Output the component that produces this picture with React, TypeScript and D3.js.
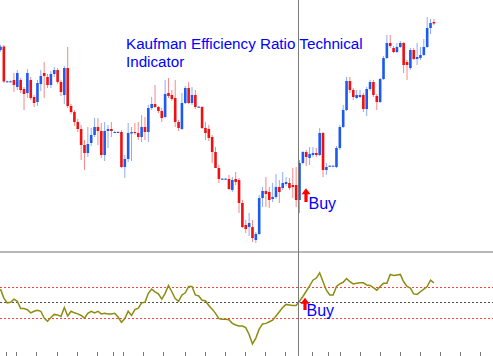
import React from "react";
import * as d3 from "d3";

// Candle prices (arbitrary price units), index = bar number
const opens = [210,213.5,178.3,178.3,180,173,180,171,167,180,163,158,176,187,183,175,186,190,178,165,192,154,148,138,131,115,107,117,125,133,129,105,129,131,128,128,128,93,101,126.5,128,127,123,133,128,152,156,153,149,143,167,165,162,138,131,157,172,157,165,152.7,153,132,131,123,108,92,81,81,81,70,81,80,57,35,33,33,20,26,62,69,68,61,63,73,72,76,77,75,75,60,97,108,102,105,107,105,127,90,93.7,93.7,93,112,133,150,179,170,162,163,165,151,171,178,164,158,181,202,217,212,208,213,217,198,192,210,201,202,205,213,232,238];
const highs = [215,215,179.5,179.5,187,190,182,173,191,183,165,180,190,198,186,189,193,192,180,194,213,156,150,141,135,120,133,132,142,142,137,138,135,138,129,129,130,105,137,133,137,138,145,143,155,163,175,154,152,180,182,170,180,140,167,174,178,173,170,154,154,138,135,125,113,95,82,82,85,83,88,82,60,40,47,40,28,65,73,83,73,77,86,80,88,83,82,92,93,100,109,110,113,113,112,132,128,97,94.5,94.5,114,135,155,183,183,172,170,170,167,173,180,180,166,182,204,225,225,214,217,219,218,200,212,212,217,213,221,243,241,241];
const lows = [208.3,177,177.5,177.5,168,170,167,150,162,160,153,154,169,162,172,172,183,176,164,156,152,146,134,128,100,90,103,114,123,115,102,99,112,123,127,127,92,82,98,99,125,120,118,120,118,150,152,147,138,142,162,159,133,129,130,156,156,155,151,152,131,120,119,97,92,77,80,80,70,68,75,47,32,27,24,18,17,25,53,53,52,58,61,57,70,74,70,62,53,47,96,94,95,103,103,104,83,85,93,93,92,110,132,149,167,160,161,162,148,144,169,163,150,157,180,201,212,207,207,212,187,180,190,200,195,200,204,212,226,235];
const closes = [213.3,178.5,178.7,178.7,175,187,170,166,187,162,157,177,184,184,175,186,190,178,168,192,154,148,138,131,115,107,116,125,133,129,105,129,131,129,128,128,93,101,127,128,127,123,133,128,152,156,153,149,142,166,164,161,138,132,157,172,157,165,153,153.3,132,127,122,108,92,81,81.3,81.3,71,80,78,57,33,31,37,22,26,62,69,66,60,63,73,68,77,78,72,73,60,97,108,103,106,107,105,127,90,93,94.3,94.3,112,133,150,179,170,163,165,165,151,171,178,165,158,181,202,217,214,208,213,217,195,195,210,201,203,205,213,232,237,236.5];

// Kaufman efficiency ratio style oscillator values per bar
const erValues = [0.25,0.08,-0.01,0.0,0.06,0.02,-0.12,-0.12,-0.14,-0.2,-0.17,-0.15,-0.17,-0.3,-0.36,-0.29,-0.23,-0.24,-0.27,-0.1,-0.26,-0.17,-0.2,-0.22,-0.25,-0.3,-0.21,-0.17,-0.2,-0.17,-0.22,-0.21,-0.22,-0.22,-0.21,-0.28,-0.38,-0.31,-0.17,-0.25,-0.14,-0.11,-0.01,0.0,0.17,0.25,0.2,0.16,0.06,0.17,0.32,0.2,0.07,0.02,0.14,0.18,0.3,0.3,0.14,0.12,0.04,0.03,-0.06,-0.13,-0.21,-0.31,-0.32,-0.32,-0.33,-0.4,-0.43,-0.45,-0.45,-0.48,-0.61,-0.79,-0.68,-0.51,-0.41,-0.4,-0.37,-0.34,-0.26,-0.18,-0.1,-0.04,-0.05,-0.06,-0.06,0.02,0.11,0.21,0.31,0.42,0.46,0.56,0.39,0.23,0.14,0.14,0.3,0.35,0.38,0.45,0.39,0.35,0.36,0.37,0.37,0.33,0.32,0.28,0.23,0.3,0.36,0.36,0.53,0.51,0.52,0.53,0.39,0.3,0.27,0.16,0.15,0.2,0.25,0.3,0.42,0.37];

const levelsRed = [0.3, -0.3];
const levelMid = [0];
// time axis tick positions (in bar units)
const timeTicks = [1.6,4.6,10.6,16.8,22.8,28.7,33.5,36.5,42.4,48.4,54.9,60.9,66.8,72.8,78.7,84.7,92.6,97.5,101,107,113,118.9,124.9,130.8,136.8,142.7];
const signalBar = 88.6;
const titleLines = ["Kaufman Efficiency Ratio Technical", "Indicator"];
const buyLabel = "Buy";

const W = 493;
const H = 356;
const BLUE = "#1e5af0";
const RED = "#ee1111";

export default function App() {
  const x = d3.scaleLinear().domain([0, 129]).range([0.5, 433.9]);
  const yP = d3.scaleLinear().domain([0, 260]).range([260, 0]);
  const yI = d3.scaleLinear().domain([-0.3, 0.3]).range([318.1, 286.5]);
  const bodyW = 2.6;
  const line = d3
    .line<number>()
    .x((_, i) => x(i))
    .y((v) => yI(v));
  const vx = Math.round(x(signalBar)) + 0.5;

  const arrow = (cx: number, top: number, bottom: number) => {
    const hw = 4.5;
    const sw = 1.6;
    const hb = top + 6;
    return `M${cx},${top} L${cx + hw},${hb} L${cx + sw},${hb} L${cx + sw},${bottom} L${cx - sw},${bottom} L${cx - sw},${hb} L${cx - hw},${hb} Z`;
  };

  return (
    <svg
      width={W}
      height={H}
      style={{ position: "fixed", left: 0, top: 0, background: "#fff" }}
      fontFamily="'Liberation Sans', Arial, sans-serif"
    >
      <rect x={0} y={0} width={W} height={H} fill="#fff" />
      {/* candles */}
      {opens.map((o, i) => {
        const c = closes[i];
        const up = c >= o;
        const col = up ? BLUE : RED;
        const cx = x(i);
        const yTop = yP(Math.max(o, c));
        const yBot = yP(Math.min(o, c));
        return (
          <g key={i}>
            <line
              x1={cx}
              x2={cx}
              y1={yP(highs[i])}
              y2={yP(lows[i])}
              stroke={col}
              strokeOpacity={0.5}
              strokeWidth={1}
            />
            <rect
              x={cx - bodyW / 2}
              y={yTop}
              width={bodyW}
              height={Math.max(1, yBot - yTop)}
              fill={col}
            />
          </g>
        );
      })}

      {/* separator */}
      <line x1={0} x2={W} y1={252} y2={252} stroke="#b8b8b8" strokeWidth={2} />

      {/* indicator levels */}
      {levelsRed.map((l) => (
        <line key={l} x1={0} x2={W} y1={Math.round(yI(l)) + 0.5} y2={Math.round(yI(l)) + 0.5} stroke="#ff4040" strokeWidth={1} strokeDasharray="2,2" />
      ))}
      {levelMid.map((l) => (
        <line key={l} x1={0} x2={W} y1={Math.round(yI(l)) + 0.5} y2={Math.round(yI(l)) + 0.5} stroke="#505050" strokeWidth={1} strokeDasharray="2,2" />
      ))}
      <path d={line(erValues) || ""} fill="none" stroke="#8c8c10" strokeWidth={1.5} />

      {/* time ticks */}
      {timeTicks.map((t) => (
        <line key={t} x1={Math.round(x(t)) + 0.5} x2={Math.round(x(t)) + 0.5} y1={352} y2={356} stroke="#777" strokeWidth={1} />
      ))}

      {/* signal vertical line */}
      <line x1={vx} x2={vx} y1={0} y2={H} stroke="#7a7a7a" strokeWidth={1} />

      {/* title */}
      {titleLines.map((t, i) => (
        <text key={t} x={126} y={49 + i * 17.7} fontSize={15.2} fill="#0000ff">
          {t}
        </text>
      ))}

      {/* buy signals */}
      <path d={arrow(306, 188.3, 202)} fill="#ff0000" />
      <text x={308.5} y={208.5} fontSize={16} fill="#0000ff">
        {buyLabel}
      </text>
      <path d={arrow(305, 297.7, 310)} fill="#ff0000" />
      <text x={306.5} y={315.7} fontSize={16} fill="#0000ff">
        {buyLabel}
      </text>
    </svg>
  );
}
